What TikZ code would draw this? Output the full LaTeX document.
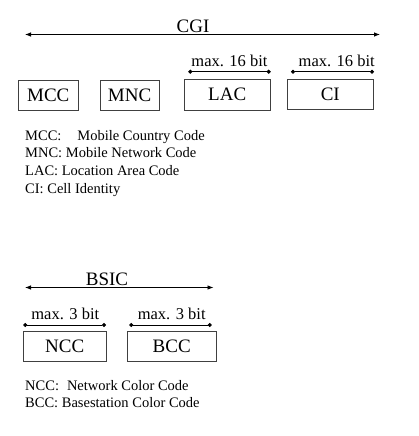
\documentclass[tikz,border=0pt]{standalone}
\usepackage{fontspec}
\setmainfont{Liberation Serif}
\usetikzlibrary{arrows.meta, positioning}

\begin{document}
\begin{tikzpicture}[
    x=1pt, y=-1pt,
    field/.style={rectangle, draw=black!75, line width=0.7pt, inner sep=0pt,
                  font=\fontsize{19}{22}\selectfont},
    span/.style={line width=0.8pt, {Latex[length=6pt,width=4.5pt]}-{Latex[length=6pt,width=4.5pt]}},
    bitwidth/.style={line width=0.8pt, {Circle[length=4pt]}-{Circle[length=4pt]}},
    idlabel/.style={anchor=base, inner sep=0pt, font=\fontsize{19}{22}\selectfont},
    bitlabel/.style={anchor=base, inner sep=0pt, font=\fontsize{16.5}{20}\selectfont},
    legendline/.style={anchor=base west, inner sep=0pt, font=\fontsize{14.5}{17}\selectfont}
  ]
  \useasboundingbox (0,0) rectangle (418,436);

  % CGI
  \coordinate (cgiL) at (25,34.5);
  \coordinate (cgiR) at (380,34.5);
  \node (cgi) [idlabel] at (193,33) {CGI};
  \draw [span] (cgiL) -- (cgiR);

  \node (mcc) [field, minimum width=60pt, minimum height=30pt] at (48.3,95)   {MCC};
  \node (mnc) [field, minimum width=59pt, minimum height=30pt] at (129.6,95)  {MNC};
  \node (lac) [field, minimum width=86pt, minimum height=31pt] at (227.2,94.5) {LAC};
  \node (ci)  [field, minimum width=86pt, minimum height=30pt] at (330.3,94)  {CI};

  \coordinate (lacL) at (188.3,71.7);
  \coordinate (lacR) at (270.7,71.7);
  \coordinate (ciL)  at (291,71.7);
  \coordinate (ciR)  at (374,71.7);
  \draw [bitwidth] (lacL) -- (lacR);
  \draw [bitwidth] (ciL) -- (ciR);
  \node (lacbits) [bitlabel] at (229.5,66.5) {max. 16 bit};
  \node (cibits)  [bitlabel] at (336.7,66.5) {max. 16 bit};

  \node (legmcc) [legendline] at (25,140)   {MCC:\hspace{1.1em}Mobile Country Code};
  \node (legmnc) [legendline] at (25,157.8) {MNC: Mobile Network Code};
  \node (leglac) [legendline] at (25,175.5) {LAC: Location Area Code};
  \node (legci)  [legendline] at (25,193.2) {CI: Cell Identity};

  % BSIC
  \coordinate (bsicL) at (25,287.5);
  \coordinate (bsicR) at (213.5,287.5);
  \node (bsic) [idlabel] at (107,285.5) {BSIC};
  \draw [span] (bsicL) -- (bsicR);

  \coordinate (nccL) at (23.3,325);
  \coordinate (nccR) at (106,325);
  \coordinate (bccL) at (129.3,325);
  \coordinate (bccR) at (211.7,325);
  \draw [bitwidth] (nccL) -- (nccR);
  \draw [bitwidth] (bccL) -- (bccR);
  \node (nccbits) [bitlabel] at (65.3,319) {max. 3 bit};
  \node (bccbits) [bitlabel] at (171.7,319) {max. 3 bit};

  \node (ncc) [field, minimum width=83pt, minimum height=30pt] at (64.7,346.7)  {NCC};
  \node (bcc) [field, minimum width=89pt, minimum height=30pt] at (171.7,346.7) {BCC};

  \node (legncc) [legendline] at (25,390)   {NCC:\hspace{0.55em}Network Color Code};
  \node (legbcc) [legendline] at (25,407.5) {BCC: Basestation Color Code};
\end{tikzpicture}
\end{document}
